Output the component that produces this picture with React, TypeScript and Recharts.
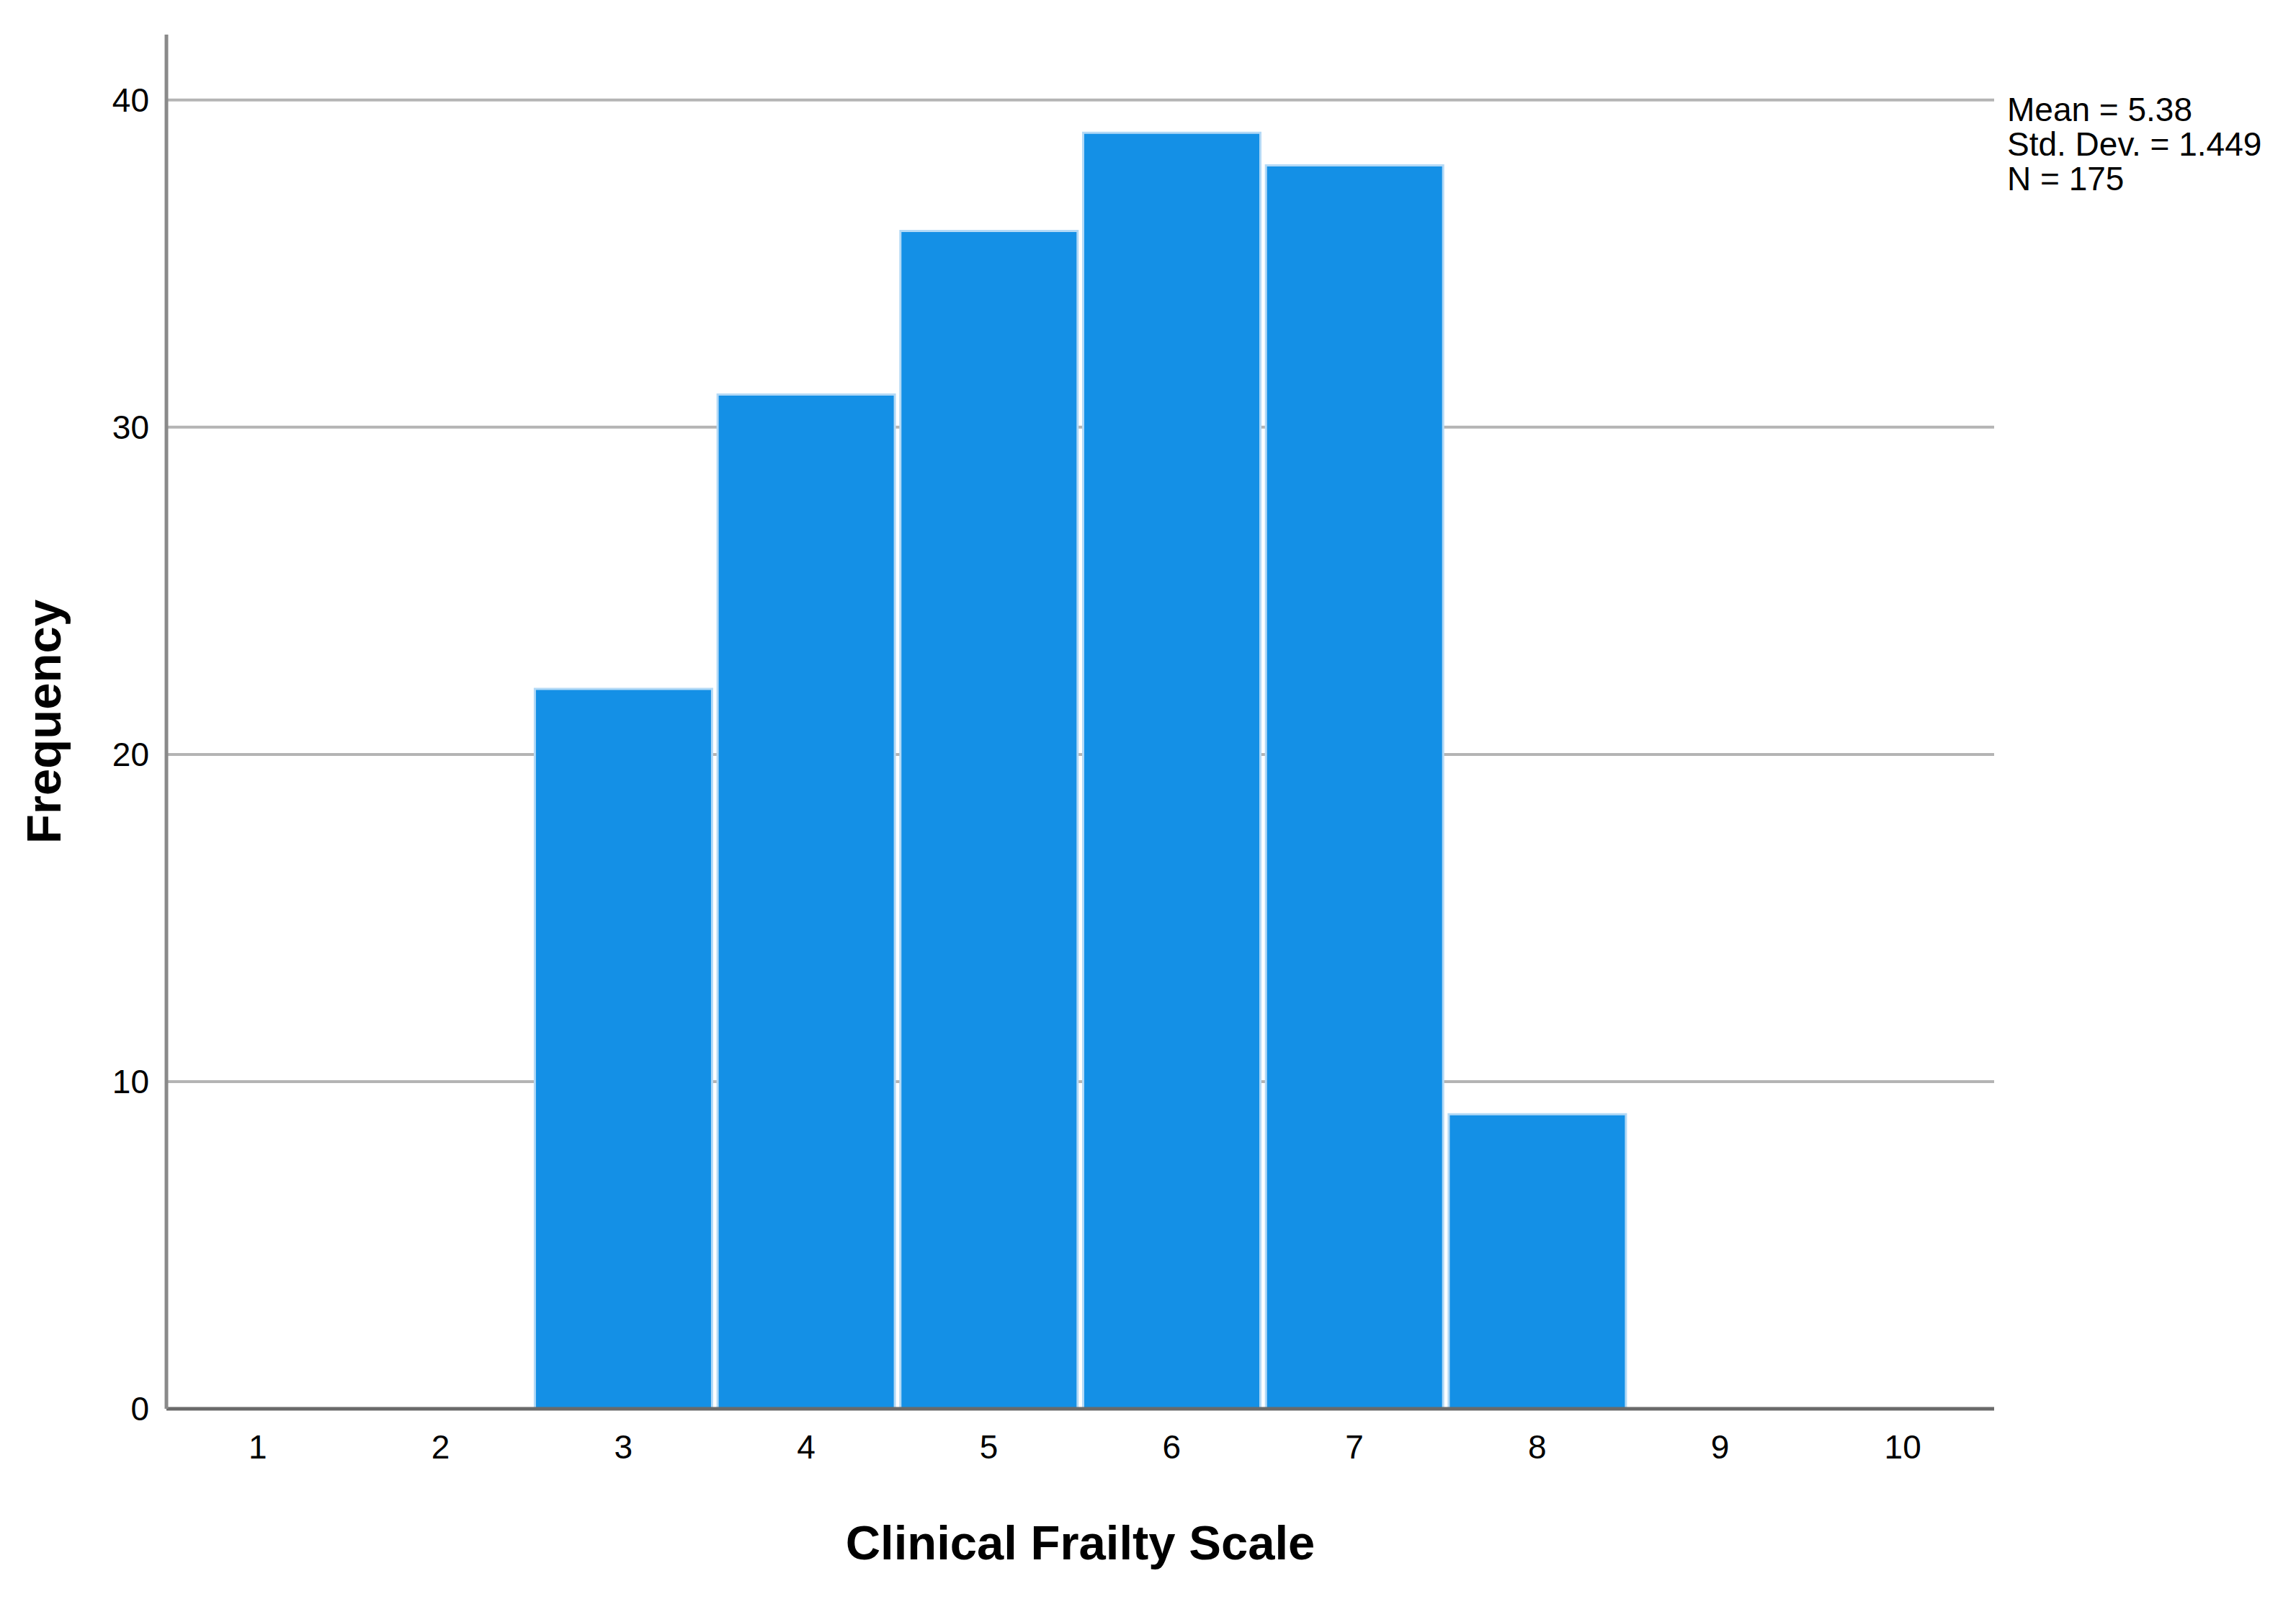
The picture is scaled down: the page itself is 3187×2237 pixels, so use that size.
import * as React from "react"
import {
  BarChart,
  Bar,
  XAxis,
  YAxis,
  CartesianGrid,
  Label,
} from "recharts"

// ─── Data ────────────────────────────────────────────────────────────────────
const categories = ["1", "2", "3", "4", "5", "6", "7", "8", "9", "10"]
const frequencies = [0, 0, 22, 31, 36, 39, 38, 9, 0, 0]
const yTicks = [0, 10, 20, 30, 40]
const gridValues = [10, 20, 30, 40]
const statLines = ["Mean = 5.38", "Std. Dev. = 1.449", "N = 175"]

const X_TITLE = "Clinical Frailty Scale"
const Y_TITLE = "Frequency"

// ─── Style ───────────────────────────────────────────────────────────────────
const FONT = '"Liberation Sans", Arial, sans-serif'
const BAR_FILL = "#1490e6"
const BAR_EDGE = "#b3d9f6"
const GRID = "#b4b4b4"

const W = 3187
const H = 2237

const data = categories.map((c, i) => ({ cat: c, freq: frequencies[i] }))

function YTitle(props: any) {
  const vb = props.viewBox || {}
  const cx = 60
  const cy = vb.y + vb.height / 2
  return (
    <text
      x={cx}
      y={cy}
      transform={`rotate(-90, ${cx}, ${cy})`}
      textAnchor="middle"
      dominantBaseline="central"
      fontFamily={FONT}
      fontWeight="bold"
      fontSize={67}
      fill="#000"
    >
      {Y_TITLE}
    </text>
  )
}

function XTitle(props: any) {
  const vb = props.viewBox || {}
  return (
    <text
      x={vb.x + vb.width / 2}
      y={2164}
      textAnchor="middle"
      fontFamily={FONT}
      fontWeight="bold"
      fontSize={67}
      fill="#000"
    >
      {X_TITLE}
    </text>
  )
}

export default function App() {
  return (
    <div
      style={{
        position: "absolute",
        left: 0,
        top: 0,
        width: W,
        height: H,
        background: "#fff",
      }}
    >
      <BarChart
        width={W}
        height={H}
        data={data}
        barCategoryGap={4}
        margin={{ top: 48, right: 419, bottom: 62, left: 0 }}
      >
        <CartesianGrid
          vertical={false}
          horizontalValues={gridValues}
          stroke={GRID}
          strokeWidth={4}
        />
        <XAxis
          dataKey="cat"
          height={220}
          tickLine={false}
          tickSize={0}
          tickMargin={36}
          axisLine={{ stroke: "#6a6a6a", strokeWidth: 5 }}
          tick={{ fontSize: 46, fill: "#000", fontFamily: FONT }}
          interval={0}
        >
          <Label content={<XTitle />} />
        </XAxis>
        <YAxis
          width={231}
          domain={[0, 42]}
          ticks={yTicks}
          tickLine={false}
          tickSize={0}
          tickMargin={24}
          axisLine={{ stroke: "#8a8a8a", strokeWidth: 5 }}
          tick={{ fontSize: 46, fill: "#000", fontFamily: FONT }}
          allowDataOverflow
        >
          <Label content={<YTitle />} />
        </YAxis>
        <Bar
          dataKey="freq"
          fill={BAR_FILL}
          stroke={BAR_EDGE}
          strokeWidth={3}
          isAnimationActive={false}
        />
      </BarChart>

      {/* Summary statistics */}
      <div
        style={{
          position: "absolute",
          left: 2786,
          top: 128,
          fontFamily: FONT,
          fontSize: 46,
          lineHeight: "48px",
          color: "#000",
          whiteSpace: "nowrap",
        }}
      >
        {statLines.map((s) => (
          <div key={s}>{s}</div>
        ))}
      </div>
    </div>
  )
}
